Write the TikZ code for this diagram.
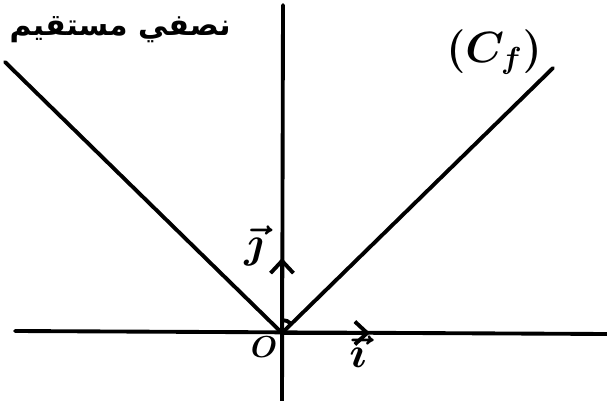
\documentclass[tikz,border=0pt]{standalone}
\usepackage{fontspec}
\setmainfont{Liberation Sans}
\newfontfamily\arabicfont[Script=Arabic]{DejaVu Sans}
\TeXXeTstate=1
\usetikzlibrary{arrows.meta,positioning}

\begin{document}
\begin{tikzpicture}[x=0.02cm, y=-0.02cm, line width=2.2pt, line cap=round, lbl/.style={font=\fontsize{24}{26}\selectfont\boldmath}, vec/.style={-{Straight Barb[length=7pt,width=13pt,line width=2.2pt]}}]
\useasboundingbox (0,0) rectangle (607,401);
\coordinate (O) at (282,333);
\coordinate (xl) at (15,331);
\coordinate (xr) at (607,334);
\coordinate (yt) at (283,5);
\coordinate (yb) at (282,401);
\coordinate (cl) at (5,62);
\coordinate (cr) at (553,68);
\coordinate (ie) at (370,333);
\coordinate (je) at (282,258);
% axes
\draw (xl) -- (xr);
\draw (yb) -- (yt);
% the curve
\draw (cl) -- (O) -- (cr);
\draw (O) ++(0,-13) arc[start angle=-90, end angle=-44, radius=13];
% unit vectors
\draw[vec] (O) -- (ie);
\draw[vec] (O) -- (je);
\node[lbl] (ilab) at (358,352) {$\vec{\imath}$};
\node[lbl] (jlab) at (254,246) {$\vec{\jmath}$};
\node[font=\fontsize{16}{18}\selectfont\boldmath] (olab) at (264,347) {$O$};
\node[lbl] (cf) at (494,52) {$(C_f)$};
\node[font=\fontsize{17}{19}\selectfont\bfseries] (half) at (120,30) {\arabicfont\beginR نصفي مستقيم\endR};
\end{tikzpicture}
\end{document}
